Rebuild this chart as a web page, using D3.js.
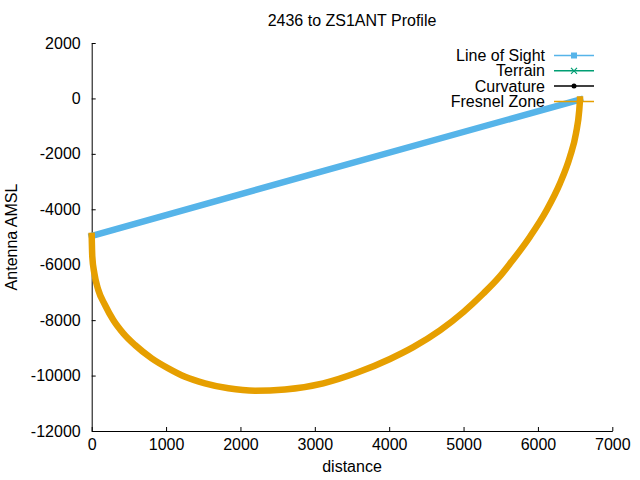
<!doctype html>
<html>
<head>
<meta charset="utf-8">
<script src="https://cdn.jsdelivr.net/npm/d3@7"></script>
<style type="text/css">
  body { margin: 0; background: #fff; }
  svg { display: block; font-family: "Liberation Sans", Arial, sans-serif; }
</style>
</head>
<body>
<svg width="640" height="480"></svg>
<script type="text/javascript">

// values
var title = "2436 to ZS1ANT Profile";
var xTicks = [0, 1000, 2000, 3000, 4000, 5000, 6000, 7000];
var yTicks = [2000, 0, -2000, -4000, -6000, -8000, -10000, -12000];

var losDist = [0, 3000, 6566];
var losHeight = [-4960, -2700, -40];

var terrainDist = [6566];
var terrainHeight = [-30];

var curvatureDist = [];
var curvatureHeight = [];

var fresnelDist = [0, 8, 35, 89, 179, 290, 425, 582, 807, 1030, 1255, 1523, 1837, 2196, 2599,
                   3114, 3563, 4011, 4324, 4683, 4997, 5266, 5481, 5625, 5893, 6118, 6297,
                   6431, 6512, 6556, 6566];
var fresnelHeight = [-4960, -5711, -6299, -6912, -7454, -7995, -8475, -8897, -9377, -9738, -10041,
                     -10279, -10459, -10546, -10500, -10280, -9900, -9400, -8975, -8370, -7710,
                     -7040, -6440, -5960, -4989, -4026, -3062, -2103, -1258, -418, -40];

var series = [
  {name: "Line of Sight", color: "#56b4e9", marker: "square", xs: losDist, ys: losHeight},
  {name: "Terrain", color: "#009e73", marker: "cross", xs: terrainDist, ys: terrainHeight},
  {name: "Curvature", color: "#000000", marker: "dot", xs: curvatureDist, ys: curvatureHeight},
  {name: "Fresnel Zone", color: "#e69f00", marker: "none", xs: fresnelDist, ys: fresnelHeight}
];

var svg = d3.select("svg");

var x = d3.scaleLinear().domain([0, 7000]).range([91.7, 612.3]);
var y = d3.scaleLinear().domain([-12000, 2000]).range([431, 43]);

// axes, ticks pointing inward, only left and bottom border
var plain = d => String(d);
var gx = svg.append("g")
  .attr("transform", "translate(0,431)")
  .call(d3.axisBottom(x).tickValues(xTicks).tickFormat(plain)
          .tickSize(-4).tickSizeOuter(0).tickPadding(8));
var gy = svg.append("g")
  .attr("transform", "translate(91.7,0)")
  .call(d3.axisLeft(y).tickValues(yTicks).tickFormat(plain)
          .tickSize(-4).tickSizeOuter(0).tickPadding(11));

[gx, gy].forEach(function(g) {
  g.attr("font-size", 16).attr("font-family", "Liberation Sans, Arial, sans-serif");
  g.selectAll("text").attr("fill", "#000");
  g.selectAll("line, path").attr("stroke", "#000");
});

// data
var line = d3.line().x(d => x(d[0])).y(d => y(d[1])).curve(d3.curveMonotoneX);

series.forEach(function(s) {
  var pts = s.xs.map((d, i) => [d, s.ys[i]]);
  if (pts.length > 1) {
    svg.append("path")
      .datum(pts)
      .attr("d", line)
      .attr("fill", "none")
      .attr("stroke", s.color)
      .attr("stroke-width", 6.5)
      .attr("stroke-linejoin", "round")
      .attr("stroke-linecap", "square");
  } else if (pts.length == 1) {
    svg.selectAll(null)
      .data(pts)
      .enter().append("rect")
      .attr("x", d => x(d[0]) - 2)
      .attr("y", d => y(d[1]) - 2)
      .attr("width", 4)
      .attr("height", 4)
      .attr("fill", s.color);
  }
});

// key
var key = svg.append("g");
series.forEach(function(s, i) {
  var ky = 55.5 + i * 15.3;
  key.append("text")
    .attr("x", 545)
    .attr("y", ky)
    .attr("dy", "0.35em")
    .attr("text-anchor", "end")
    .attr("font-size", 16)
    .text(s.name);
  key.append("line")
    .attr("x1", 554).attr("x2", 594)
    .attr("y1", ky).attr("y2", ky)
    .attr("stroke", s.color)
    .attr("stroke-width", 1.5);
  if (s.marker == "square") {
    key.append("rect")
      .attr("x", 571).attr("y", ky - 3)
      .attr("width", 6).attr("height", 6)
      .attr("fill", s.color);
  } else if (s.marker == "cross") {
    key.append("path")
      .attr("d", `M571,${ky - 3}L577,${ky + 3}M571,${ky + 3}L577,${ky - 3}`)
      .attr("stroke", s.color)
      .attr("stroke-width", 1.2);
  } else if (s.marker == "dot") {
    key.append("circle")
      .attr("cx", 574).attr("cy", ky)
      .attr("r", 2.5)
      .attr("fill", s.color);
  }
});

// labels
svg.append("text")
  .attr("x", 352).attr("y", 26)
  .attr("text-anchor", "middle")
  .attr("font-size", 16)
  .text(title);

svg.append("text")
  .attr("x", 352).attr("y", 472)
  .attr("text-anchor", "middle")
  .attr("font-size", 16)
  .text("distance");

svg.append("text")
  .attr("transform", "translate(17,237) rotate(-90)")
  .attr("text-anchor", "middle")
  .attr("font-size", 16)
  .text("Antenna AMSL");

</script>
</body>
</html>
